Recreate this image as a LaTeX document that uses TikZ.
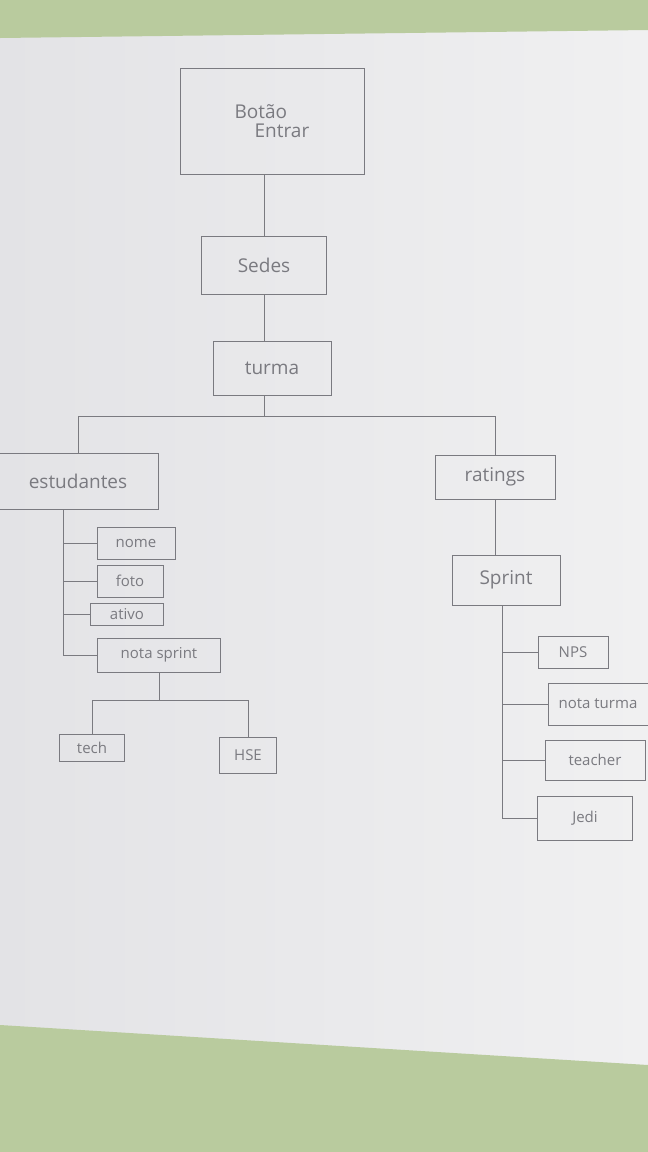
\documentclass[tikz,border=0pt]{standalone}
\usepackage{fontspec}
\setmainfont{Open Sans}
\begin{document}
\begin{tikzpicture}[x=1pt,y=-1pt,
  box/.style={draw=ink, line width=0.8pt, rectangle, inner sep=0pt, text=ink, font=\fontsize{19}{21}\selectfont},
  small/.style={box, font=\fontsize{15}{17}\selectfont},
  link/.style={draw=ink, line width=0.8pt}]
\definecolor{ink}{HTML}{7A7A80}
\definecolor{paper}{HTML}{E3E3E6}
\definecolor{paperlight}{HTML}{F0F0F1}
\definecolor{cloth}{HTML}{B9CB9E}
\useasboundingbox (0,0) rectangle (648,1152);
% background
\shade[left color=paper, right color=paperlight] (0,0) rectangle (648,1152);
\fill[cloth] (0,0) -- (648,0) -- (648,30) -- (0,38) -- cycle;
\fill[cloth] (0,1025) -- (648,1065) -- (648,1152) -- (0,1152) -- cycle;
% nodes
\node[box, minimum width=184pt, minimum height=106pt, align=left] (bot) at (272,121) {Botão\\[-2pt]\hspace*{20pt}Entrar};
\node[box, minimum width=125pt, minimum height=58pt] (sedes) at (264,265) {Sedes};
\node[box, minimum width=118pt, minimum height=54pt] (turma) at (272,368) {turma};
\node[box, minimum width=160pt, minimum height=56pt] (est) at (78,481) {estudantes};
\node[box, minimum width=120pt, minimum height=44pt] (rat) at (495,477) {ratings};
\node[small, minimum width=78pt, minimum height=32pt] (nome) at (136,543) {nome};
\node[small, minimum width=66pt, minimum height=32pt] (foto) at (130,581) {foto};
\node[small, minimum width=73pt, minimum height=22pt] (ativo) at (127,614) {ativo};
\node[small, minimum width=123pt, minimum height=34pt] (nsp) at (159,655) {nota sprint};
\node[small, minimum width=65pt, minimum height=27pt] (tech) at (92,748) {tech};
\node[small, minimum width=57pt, minimum height=36pt] (hse) at (248,755) {HSE};
\node[box, minimum width=108pt, minimum height=50pt] (sprint) at (506,580) {Sprint};
\node[small, minimum width=70pt, minimum height=32pt] (nps) at (573,652) {NPS};
\node[small, minimum width=100pt, minimum height=42pt] (nturma) at (598,704) {nota turma};
\node[small, minimum width=100pt, minimum height=40pt] (teacher) at (595,760) {teacher};
\node[small, minimum width=95pt, minimum height=44pt] (jedi) at (585,818) {Jedi};
% connectors
\coordinate (bar) at (0,416);
\coordinate (lx) at (63,0);
\coordinate (bar2) at (0,700);
\coordinate (rx) at (502,0);
\draw[link] (bot.south -| sedes.north) -- (sedes.north);
\draw[link] (sedes.south) -- (sedes.south |- turma.north);
\draw[link] (sedes.south |- turma.south) -- (sedes.south |- bar);
\draw[link] (est.north) -- (est.north |- bar) -- (rat.north |- bar) -- (rat.north);
\draw[link] (est.south -| lx) -- (lx |- nsp.west) -- (nsp.west);
\draw[link] (lx |- nome.west) -- (nome.west);
\draw[link] (lx |- foto.west) -- (foto.west);
\draw[link] (lx |- ativo.west) -- (ativo.west);
\draw[link] (nsp.south) -- (nsp.south |- bar2);
\draw[link] (tech.north) -- (tech.north |- bar2) -- (hse.north |- bar2) -- (hse.north);
\draw[link] (rat.south) -- (rat.south |- sprint.north);
\draw[link] (sprint.south -| rx) -- (rx |- jedi.west) -- (jedi.west);
\draw[link] (rx |- nps.west) -- (nps.west);
\draw[link] (rx |- nturma.west) -- (nturma.west);
\draw[link] (rx |- teacher.west) -- (teacher.west);
\end{tikzpicture}
\end{document}
